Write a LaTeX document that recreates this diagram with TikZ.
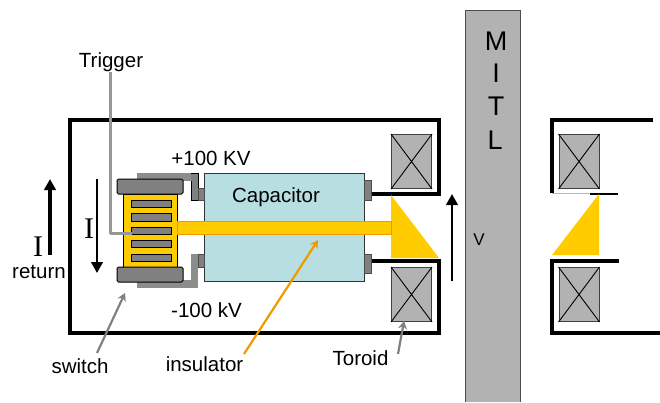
\documentclass[tikz,border=0pt]{standalone}
\usepackage{fontspec}
\setmainfont{Liberation Sans}
\newfontfamily\serifI{Liberation Serif}
\usetikzlibrary{arrows.meta}
\definecolor{capblue}{HTML}{B7DEE1}
\definecolor{gold}{HTML}{FFCC00}
\definecolor{insedge}{HTML}{F09A00}
\definecolor{midgrey}{HTML}{808080}
\definecolor{lightgrey}{HTML}{8C8C8C}
\definecolor{torgrey}{HTML}{B2B2B2}
\definecolor{mitlgrey}{HTML}{B2B2B2}
\tikzset{
  label text/.style={font=\fontsize{20.5}{22}\selectfont,inner sep=0pt,text=black},
  mitl text/.style={font=\fontsize{27}{30}\selectfont,inner sep=0pt},
  serif label/.style={font=\fontsize{30}{32}\selectfont\serifI,inner sep=0pt},
  frameline/.style={draw=black,line width=3.2pt,line cap=round,line join=miter},
  toroidbox/.style={draw=black!75,fill=torgrey,line width=1pt,inner sep=0pt,minimum width=40pt,minimum height=54pt,anchor=north west},
  crossline/.style={draw=black,line width=0.9pt},
  arrowblack/.style={draw=black,line width=2.4pt,-{Triangle[length=11pt,width=11.5pt]}},
  leaderline/.style={draw=midgrey,line width=2.2pt,-{Stealth[length=8pt,width=9pt]}},
  orangeleader/.style={draw=insedge,line width=2.2pt,-{Stealth[length=8pt,width=9pt]}},
  barbox/.style={draw=black,fill=midgrey,line width=1pt},
  capplate/.style={draw=black,fill=midgrey,line width=1pt,rounded corners=1.5pt},
  termbox/.style={draw=black!70,fill=midgrey,line width=0.8pt},
  feedline/.style={draw=lightgrey!90!white,line width=3pt},
}
\begin{document}
\begin{tikzpicture}[x=1pt,y=-1pt]
\useasboundingbox (0,0) rectangle (660,402);
% MITL
\fill[mitlgrey] (465,10) rectangle (520,402);
\draw[black!70,line width=0.8pt] (465,402) -- (465,10) -- (520,10) -- (520,402);
\node[mitl text] (mitlM) at (496,41) {M};
\node[mitl text] (mitlI) at (496,73) {I};
\node[mitl text] (mitlT) at (496,106) {T};
\node[mitl text] (mitlL) at (495,140) {L};
% frame, left part
\draw[frameline] (370,194) -- (439,194) -- (439,120) -- (70,120) -- (70,333) -- (439,333) -- (439,261) -- (370,261);
% right part
\draw[frameline,line cap=butt] (653,120) -- (552,120) -- (552,193);
\draw[frameline,line cap=butt] (619,261) -- (552,261) -- (552,333) -- (660,333);
% insulator wedge, left
\fill[gold] (391,195) -- (439,258) -- (391,258) -- cycle;
% right wedge
\draw[lightgrey!60,line width=1pt] (552,193.5) -- (590,193.5);
\draw[black,line width=1.6pt] (590,194) -- (618,194);
\fill[gold] (599,194) -- (552,255) -- (599,255) -- cycle;
% toroids
\foreach \n/\xa/\ya in {a/391/134,b/391/267,c/558.5/134,d/558.5/267}{
  \node[toroidbox] (tor\n) at (\xa,\ya) {};
  \draw[crossline] (tor\n.north west) -- (tor\n.south east) (tor\n.south west) -- (tor\n.north east);
}
% capacitor
\draw[black!80,fill=capblue,line width=0.9pt] (204,173) rectangle (364,281);
\node[label text] (capacitor) at (276,197) {Capacitor};
% grey feeds
\fill[lightgrey] (137,173) rectangle (192,181);
\fill[lightgrey] (137,280) rectangle (198,288);
\fill[lightgrey] (191,254) rectangle (198,288);
\draw[black,fill=midgrey,line width=0.9pt] (191,181) -- (191,200) -- (198,200) -- (198,173) -- (191,173);
\draw[termbox] (198,188) rectangle (204,200);
\draw[termbox] (198,254) rectangle (204,267);
\draw[termbox] (364,180) rectangle (371,200);
\draw[termbox] (364,254) rectangle (371,273);
% switch
\draw[black,fill=gold,line width=1pt] (123,194) rectangle (177,267);
\draw[capplate] (117,179) rectangle (183,194);
\draw[capplate] (117,267) rectangle (183,282);
\foreach \ya/\yb in {200/207,213/221,227/234,240/247,254/261}{
  \draw[barbox] (131,\ya) rectangle (171,\yb);
}
% insulator bar
\fill[gold] (177,221) rectangle (391,234);
\draw[insedge,line width=1pt] (177,221) rectangle (391,234);
% labels and connectors
\node[label text] (trigger) at (111,62) {Trigger};
\coordinate (trigbar) at (132,233.5);
\coordinate (trigtop) at (110,72);
\draw[feedline,line join=round] (trigtop) -- (110,233.5) -- (trigbar);
\node[label text] (plus) at (211,158) {+100 KV};
\node[label text] (minus) at (206.5,310) {-100 kV};
\node[label text] (switch) at (80,366) {switch};
\node[label text] (insulator) at (204.5,364) {insulator};
\node[label text] (toroid) at (360.5,358) {Toroid};
\node[serif label] (ione) at (89,229) {I};
\node[serif label] (itwo) at (38,247) {I};
\node[label text] (return) at (39,272) {return};
\node[font=\fontsize{17}{19}\selectfont,inner sep=0pt] (vlabel) at (479,240) {V};
\coordinate (ins tip) at (318,240);
\coordinate (sw tip) at (125,293);
\coordinate (tor tip) at (404,321);
\coordinate (sw start) at (97,353);
\coordinate (tor start) at (398,354);
\coordinate (ins start) at (244,354);
\draw[leaderline] (sw start) -- (sw tip);
\draw[orangeleader] (ins start) -- (ins tip);
\draw[leaderline] (tor start) -- (tor tip);
% arrows
\coordinate (retA) at (50,255); \coordinate (retB) at (50,179);
\coordinate (iA) at (97,179); \coordinate (iB) at (97,273);
\coordinate (vA) at (452,281); \coordinate (vB) at (452,194);
\draw[arrowblack,line width=3.6pt] (retA) -- (retB);
\draw[arrowblack] (iA) -- (iB);
\draw[arrowblack] (vA) -- (vB);
\end{tikzpicture}
\end{document}
